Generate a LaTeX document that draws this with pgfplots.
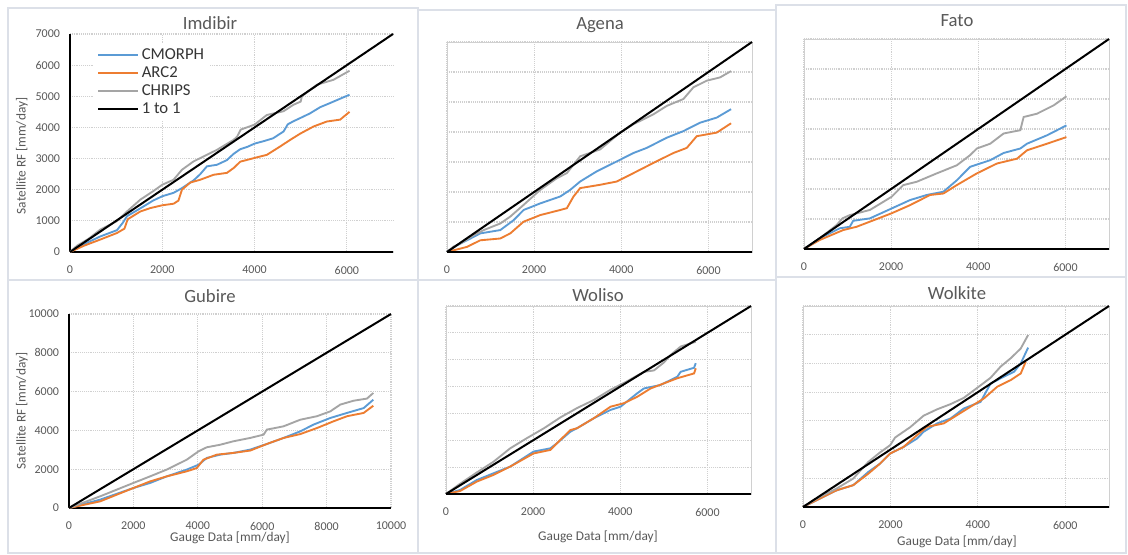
\documentclass[border=0pt]{standalone}
\usepackage{pgfplots}
\pgfplotsset{compat=1.18}
\usepackage{fontspec}
\setmainfont{Carlito}
\definecolor{cmorph}{HTML}{5B9BD5}
\definecolor{arc}{HTML}{ED7D31}
\definecolor{chrips}{HTML}{A5A5A5}
\definecolor{txt}{HTML}{595959}
\definecolor{gridc}{HTML}{D0D0D0}
\definecolor{framec}{HTML}{DCE0E8}
\pgfplotsset{
  base/.style={
    scale only axis, anchor=south west,
    xmin=0, ymin=0,
    major tick length=0pt,
    scaled ticks=false,
    grid=major,
    major grid style={gridc, densely dotted, line width=0.8pt},
    ticklabel style={font=\fontsize{9}{10}\selectfont, text=txt},
    /pgf/number format/assume math mode=true,
    /pgf/number format/1000 sep={},
    clip=false,
  },
  labeled/.style={base,
    axis x line*=bottom, axis y line*=left,
    axis line style={black, line width=1.5pt},
    xticklabel style={yshift=-7pt},
    yticklabel style={xshift=-4pt},
  },
  boxed/.style={base,
    axis line style={gridc, line width=0.6pt},
    xmax=7000, ymax=7000,
    xtick={0,2000,4000,6000}, ytick={0,1000,...,7000},
    yticklabels={},
    xticklabel style={yshift=-7pt},
    after end axis/.code={\draw[black,line width=1.5pt] (rel axis cs:0,0) -- (rel axis cs:1,0);},
  },
  sCM/.style={cmorph, line width=1.4pt},
  sAR/.style={arc, line width=1.4pt},
  sCH/.style={chrips, line width=1.4pt},
  sOne/.style={black, line width=1.5pt},
}
\begin{document}
\begin{tikzpicture}
\useasboundingbox (0,0) rectangle (846pt,416.25pt);
\fill[white] (0,0) rectangle (846pt,416.25pt);
\draw[framec, line width=0.8pt] (6pt,206.25pt) rectangle (313.5pt,410.25pt);
\draw[framec, line width=0.8pt] (313.5pt,206.25pt) rectangle (582pt,408.75pt);
\draw[framec, line width=0.8pt] (582pt,208.5pt) rectangle (844.5pt,412.5pt);
\draw[framec, line width=0.8pt] (6pt,1.5pt) rectangle (313.5pt,206.25pt);
\draw[framec, line width=0.8pt] (313.5pt,1.5pt) rectangle (582pt,206.25pt);
\draw[framec, line width=0.8pt] (582pt,1.5pt) rectangle (844.5pt,208.5pt);

% Imdibir
\begin{axis}[labeled, at={(52.5pt,227.25pt)}, width=242.25pt, height=163.5pt,
  xmax=7000, ymax=7000, xtick={0,2000,4000,6000}, ytick={0,1000,...,7000},
  legend style={at={(0.075,0.96)}, anchor=north west, draw=none, fill=white,
    font=\fontsize{12.5}{14}\selectfont, text=txt!60!black, row sep=0pt, inner sep=2pt, cells={anchor=west}},
  legend image code/.code={\draw[#1] (0pt,0pt) -- (30pt,0pt);}]
\addplot[sCM] coordinates {(0,0) (300,250) (657,500) (1018,700) (1150,950) (1235,1150) (1523,1400) (1800,1650) (2000,1790) (2245,1900) (2426,2050) (2679,2300) (2823,2500) (2967,2750) (3184,2800) (3400,2950) (3545,3150) (3689,3300) (3850,3380) (4000,3480) (4200,3560) (4400,3650) (4556,3800) (4628,3870) (4720,4100) (4845,4200) (4989,4300) (5200,4450) (5422,4650) (5600,4760) (5711,4830) (5900,4950) (6058,5050)};
\addlegendentry{CMORPH}
\addplot[sAR] coordinates {(0,0) (300,200) (657,400) (1018,610) (1180,750) (1250,1050) (1523,1300) (1740,1410) (2000,1500) (2245,1550) (2350,1650) (2426,2000) (2606,2230) (2823,2320) (3112,2480) (3400,2540) (3550,2700) (3689,2900) (4000,3020) (4267,3120) (4556,3390) (4772,3600) (4989,3800) (5278,4030) (5567,4190) (5855,4250) (6058,4500)};
\addlegendentry{ARC2}
\addplot[sCH] coordinates {(0,0) (150,200) (400,420) (657,720) (1018,990) (1235,1300) (1523,1680) (1800,1950) (2000,2160) (2245,2320) (2426,2640) (2679,2910) (2967,3120) (3184,3280) (3545,3600) (3620,3700) (3700,3930) (4000,4090) (4267,4400) (4628,4520) (4845,4730) (5000,4830) (5025,5000) (5350,5370) (5711,5530) (6058,5820)};
\addlegendentry{CHRIPS}
\addplot[sOne] coordinates {(0,0) (7000,7000)};
\addlegendentry{1 to 1}
\end{axis}

% Agena
\begin{axis}[boxed, at={(335.25pt,227.25pt)}, width=228.75pt, height=157.5pt]
\addplot[sCM] coordinates {(0,0) (200,200) (459,390) (764,620) (1223,730) (1529,1060) (1758,1400) (2140,1620) (2598,1850) (2827,2070) (3057,2350) (3439,2690) (3898,3020) (4280,3300) (4585,3470) (5044,3810) (5426,4030) (5808,4310) (6191,4480) (6519,4760)};
\addplot[sAR] coordinates {(0,0) (459,170) (764,390) (1223,450) (1452,620) (1758,1010) (2140,1230) (2598,1400) (2751,1460) (2904,1850) (3057,2130) (3516,2240) (3898,2350) (4280,2630) (4738,2970) (5197,3300) (5503,3470) (5732,3860) (6191,3980) (6519,4290)};
\addplot[sCH] coordinates {(0,0) (150,180) (306,280) (600,550) (841,730) (1223,950) (1452,1180) (1758,1570) (2140,2070) (2522,2460) (2751,2630) (3057,3190) (3516,3420) (3974,3980) (4280,4260) (4738,4590) (5044,4870) (5426,5100) (5656,5490) (5962,5710) (6267,5820) (6519,6030)};
\addplot[sOne] coordinates {(0,0) (7000,7000)};
\end{axis}

% Fato
\begin{axis}[boxed, at={(603pt,229.5pt)}, width=228.75pt, height=157.5pt]
\addplot[sCM] coordinates {(0,0) (361,355) (821,690) (1051,740) (1128,940) (1511,1020) (2010,1350) (2432,1630) (2816,1800) (3200,1910) (3507,2290) (3814,2740) (4274,2960) (4581,3200) (4965,3350) (5118,3510) (5578,3790) (6023,4120)};
\addplot[sAR] coordinates {(0,0) (361,300) (898,630) (1205,740) (1511,910) (2010,1190) (2432,1460) (2893,1800) (3200,1850) (3507,2130) (3967,2520) (4428,2850) (4888,3010) (5118,3290) (5578,3510) (6023,3730)};
\addplot[sCH] coordinates {(0,0) (361,355) (750,800) (882,1020) (1051,1130) (1511,1300) (1818,1570) (2010,1740) (2279,2130) (2586,2240) (3046,2520) (3507,2790) (3814,3130) (3967,3350) (4274,3510) (4581,3850) (4965,3960) (5041,4400) (5348,4510) (5732,4790) (6023,5090)};
\addplot[sOne] coordinates {(0,0) (7000,7000)};
\end{axis}

% Gubire
\begin{axis}[labeled, at={(51.75pt,35.25pt)}, width=241.5pt, height=145.5pt,
  xmax=10000, ymax=10000, xtick={0,2000,...,10000}, ytick={0,2000,...,10000}]
\addplot[sCM] coordinates {(0,0) (964,430) (2000,1030) (2518,1290) (3036,1630) (3658,1980) (4021,2230) (4280,2580) (4694,2750) (5109,2840) (5627,3010) (6145,3300) (6663,3610) (7181,3950) (7596,4300) (8114,4640) (8633,4900) (9151,5150) (9450,5580)};
\addplot[sAR] coordinates {(0,0) (964,340) (2000,1030) (2518,1370) (3036,1630) (3658,1890) (3969,2060) (4176,2490) (4591,2750) (5109,2840) (5627,2960) (6145,3300) (6663,3610) (7181,3810) (7699,4120) (8218,4470) (8633,4730) (9151,4900) (9450,5270)};
\addplot[sCH] coordinates {(0,0) (964,600) (2000,1290) (2518,1630) (3036,1980) (3658,2490) (4021,2920) (4280,3130) (4694,3260) (5109,3440) (5627,3610) (6042,3780) (6145,4040) (6663,4210) (7181,4550) (7699,4730) (8114,4980) (8425,5330) (8840,5530) (9254,5640) (9450,5930)};
\addplot[sOne] coordinates {(0,0) (10000,10000)};
\end{axis}

% Woliso
\begin{axis}[boxed, at={(334.5pt,45.75pt)}, width=228.75pt, height=141pt]
\addplot[sCM] coordinates {(0,0) (322,150) (706,520) (1089,770) (1473,1020) (2010,1580) (2394,1700) (2547,1890) (2854,2320) (3008,2450) (3392,2820) (3775,3130) (4005,3250) (4389,3750) (4542,3930) (4926,4060) (5310,4370) (5386,4550) (5693,4700) (5732,4870)};
\addplot[sAR] coordinates {(0,0) (322,110) (706,460) (1089,710) (1473,1020) (2010,1510) (2394,1640) (2547,1890) (2854,2380) (3008,2450) (3392,2820) (3775,3250) (4082,3380) (4389,3620) (4696,3930) (5003,4120) (5310,4310) (5693,4490) (5732,4680)};
\addplot[sCH] coordinates {(0,0) (322,380) (706,800) (1089,1200) (1473,1700) (1857,2080) (2240,2440) (2624,2850) (3008,3200) (3392,3500) (3775,3880) (4159,4200) (4542,4550) (4772,4600) (5003,4900) (5156,5180) (5386,5490) (5732,5670)};
\addplot[sOne] coordinates {(0,0) (7000,7000)};
\end{axis}

% Wolkite
\begin{axis}[boxed, at={(602.25pt,36pt)}, width=229.5pt, height=150.75pt]
\addplot[sCM] coordinates {(0,0) (383,290) (766,580) (1149,760) (1494,1220) (1762,1510) (1992,1860) (2299,2090) (2605,2380) (2759,2620) (3065,2910) (3372,3080) (3678,3430) (4062,3660) (4291,4300) (4598,4540) (4828,4710) (4981,5000) (5150,5550)};
\addplot[sAR] coordinates {(0,0) (383,290) (766,580) (1149,760) (1494,1160) (1762,1510) (1992,1860) (2299,2090) (2605,2500) (2836,2790) (3218,2910) (3525,3200) (3831,3490) (4138,3780) (4444,4190) (4751,4420) (4981,4650) (5096,5060)};
\addplot[sCH] coordinates {(0,0) (383,350) (766,640) (1149,990) (1494,1570) (1762,1900) (1992,2150) (2107,2420) (2452,2780) (2759,3180) (3065,3400) (3372,3580) (3678,3800) (3985,4150) (4291,4500) (4521,4890) (4751,5180) (4981,5520) (5150,5990)};
\addplot[sOne] coordinates {(0,0) (7000,7000)};
\end{axis}

% titles and labels
\begin{scope}[every node/.style={text=txt, font=\fontsize{14}{16}\selectfont}]
\node at (157.5pt,399pt) {Imdibir};
\node at (450pt,397.5pt) {Agena};
\node at (717.75pt,400.5pt) {Fato};
\node at (157.5pt,194.25pt) {Gubire};
\node at (448.5pt,195pt) {Woliso};
\node at (717.75pt,196.5pt) {Wolkite};
\end{scope}
\begin{scope}[every node/.style={text=txt, font=\fontsize{10}{12}\selectfont}]
\node at (172.5pt,12.75pt) {Gauge Data [mm/day]};
\node at (448.5pt,13.5pt) {Gauge Data [mm/day]};
\node at (717.75pt,9.75pt) {Gauge Data [mm/day]};
\node[rotate=90] at (16.5pt,299.25pt) {Satellite RF [mm/day]};
\node[rotate=90] at (16.5pt,108pt) {Satellite RF [mm/day]};
\end{scope}
\end{tikzpicture}
\end{document}
